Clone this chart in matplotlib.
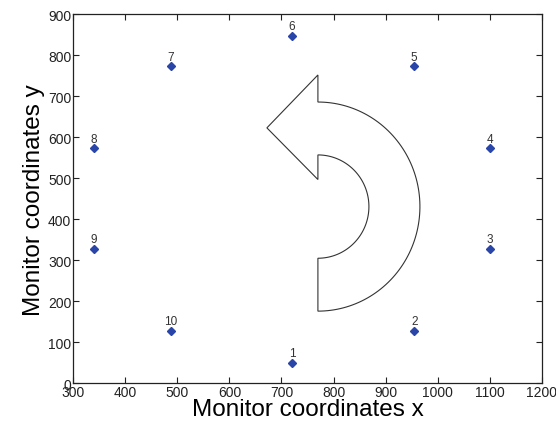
import numpy as np
import matplotlib
matplotlib.use("Agg")
import matplotlib.pyplot as plt
from matplotlib.patches import Polygon

plt.rcParams['font.family'] = ['Liberation Sans', 'DejaVu Sans']

# target positions on the monitor (numbered 1..10)
point_ids = ['1', '2', '3', '4', '5', '6', '7', '8', '9', '10']
x_pos = [720, 955, 1100, 1100, 955, 720, 487, 340, 340, 487]
y_pos = [50, 128, 328, 573, 773, 848, 773, 573, 328, 128]

x_ticks = [300, 400, 500, 600, 700, 800, 900, 1000, 1100, 1200]
y_ticks = [0, 100, 200, 300, 400, 500, 600, 700, 800, 900]

fig = plt.figure(figsize=(5.56, 4.27), dpi=100)
ax = fig.add_axes([0.1318, 0.1000, 0.8425, 0.8642])

ax.plot(x_pos, y_pos, linestyle='none', marker='D', markersize=4,
        color='#2a45a8', markeredgecolor='#2a45a8')
for lab, xv, yv in zip(point_ids, x_pos, y_pos):
    ax.annotate(lab, (xv, yv), xytext=(0, 2.5), textcoords='offset points',
                ha='center', va='bottom', fontsize=8.5, color='#333333')

# curved arrow (counter-clockwise hint)
cx, cy = 770, 431
r_out = (196, 255)
r_in = (98, 126)
t = np.linspace(-np.pi / 2, np.pi / 2, 100)
outer = np.column_stack([cx + r_out[0] * np.cos(t), cy + r_out[1] * np.sin(t)])
inner = np.column_stack([cx + r_in[0] * np.cos(t[::-1]), cy + r_in[1] * np.sin(t[::-1])])
head = np.array([[cx, 752], [672, 623], [cx, 497]])
shape = np.vstack([outer, head, inner])
ax.add_patch(Polygon(shape, closed=True, facecolor='white',
                     edgecolor='#333333', linewidth=0.8))

ax.set_xlim(300, 1200)
ax.set_ylim(0, 900)
ax.set_xticks(x_ticks)
ax.set_yticks(y_ticks)
ax.tick_params(direction='in', length=4, width=0.8, top=True, right=True,
               labelsize=10, pad=1.5, colors='#222222')
for s in ax.spines.values():
    s.set_linewidth(0.9)
    s.set_color('#222222')

ax.set_xlabel('Monitor coordinates x', fontsize=17.5, labelpad=-1)
ax.set_ylabel('Monitor coordinates y', fontsize=17.5, labelpad=2)

fig.savefig('out.png', dpi=100)
